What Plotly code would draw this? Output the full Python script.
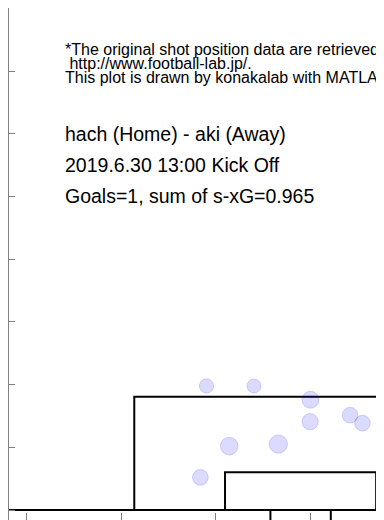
import numpy as np
import plotly.graph_objects as go

# ---- data ----
shot_x = [-11.4, -5.65, 1.2, 1.15, 6.0, 7.5, -8.65, -2.7, -12.15]   # m from goal centre
shot_y = [18.05, 18.05, 16.05, 12.85, 13.8, 12.65, 9.3, 9.6, 4.75]   # m from goal line
shot_xg = [0.053, 0.045, 0.135, 0.114, 0.096, 0.096, 0.156, 0.174, 0.096]

note_lines = ["*The original shot position data are retrieved from",
              " http://www.football-lab.jp/.",
              "This plot is drawn by konakalab with MATLAB"]
info_lines = ["hach (Home) - aki (Away)",
              "2019.6.30 13:00 Kick Off",
              "Goals=1, sum of s-xG=%.3f" % 0.965]

# pitch dimensions (m)
PEN_HALF_W, PEN_DEPTH = 20.16, 16.5
GA_HALF_W, GA_DEPTH = 9.16, 5.5
GOAL_HALF_W = 3.66

# ---- layout geometry (page pixels; page body has an 8px margin) ----
OFF = 8
WIN_W, WIN_H = 384, 520
W, H = WIN_W - OFF, WIN_H - OFF
PL, PT, PR, PB = 9, 8, 384, 520          # plot area in page px
PX_X, PX_Y = 8.25, 6.87                  # px per metre
GOAL_PX_X, GOAL_PX_Y = 300.6, 510        # page px of goal centre on goal line
x_rng = [(PL - GOAL_PX_X) / PX_X, (PR - GOAL_PX_X) / PX_X]
y_rng = [(GOAL_PX_Y - PB) / PX_Y, (GOAL_PX_Y - PT) / PX_Y]

fig = go.Figure()

def seg(xs, ys):
    fig.add_trace(go.Scatter(x=xs, y=ys, mode="lines",
                             line=dict(color="black", width=2),
                             hoverinfo="skip", showlegend=False))

seg([-60, 60], [0, 0])
seg([-PEN_HALF_W, -PEN_HALF_W, PEN_HALF_W, PEN_HALF_W], [0, PEN_DEPTH, PEN_DEPTH, 0])
seg([-GA_HALF_W, -GA_HALF_W, GA_HALF_W, GA_HALF_W], [0, GA_DEPTH, GA_DEPTH, 0])
seg([-GOAL_HALF_W, -GOAL_HALF_W], [0, -3])
seg([GOAL_HALF_W, GOAL_HALF_W], [0, -3])

sizes = [12.5 + 33.4 * g for g in shot_xg]
fig.add_trace(go.Scatter(x=shot_x, y=shot_y, mode="markers",
                         marker=dict(size=sizes, color="rgba(0,0,255,0.2)",
                                     line=dict(color="rgba(0,0,255,0.22)", width=1)),
                         showlegend=False))

def px_to_paper(px, py):
    return (px - PL) / (PR - PL), (PB - py) / (PB - PT)

FONT = "Liberation Sans, Arial, Helvetica, sans-serif"
small_fs, big_fs = 16, 19.5
small_base = [55.5, 69.5, 83.5]
big_base = [141, 172, 203]
TX = 63
for txt, b in zip(note_lines, small_base):
    px, py = px_to_paper(TX, b - 0.3465 * small_fs)
    fig.add_annotation(x=px, y=py, xref="paper", yref="paper", text=txt,
                       showarrow=False, xanchor="left", yanchor="middle",
                       font=dict(family=FONT, size=small_fs, color="black"))
for txt, b in zip(info_lines, big_base):
    px, py = px_to_paper(TX, b - 0.3465 * big_fs)
    fig.add_annotation(x=px, y=py, xref="paper", yref="paper", text=txt,
                       showarrow=False, xanchor="left", yanchor="middle",
                       font=dict(family=FONT, size=big_fs, color="black"))

x_ticks = list(np.arange(1.16, x_rng[0], -11.45))
fig.update_layout(
    width=W, height=H,
    margin=dict(l=PL - OFF, r=WIN_W - PR, t=PT - OFF, b=WIN_H - PB),
    paper_bgcolor="white", plot_bgcolor="white",
    xaxis=dict(range=x_rng, showline=False, showgrid=False, zeroline=False,
               ticks="inside", ticklen=7, tickwidth=1, tickcolor="#808080",
               tickvals=x_ticks, showticklabels=False, fixedrange=True),
    yaxis=dict(range=y_rng, showline=True, linecolor="#808080", linewidth=1,
               showgrid=False, zeroline=False, ticks="inside", ticklen=6,
               tickwidth=1, tickcolor="#808080", tick0=0, dtick=62.7 / PX_Y,
               showticklabels=False, fixedrange=True),
)
fig.write_html("out.html")
